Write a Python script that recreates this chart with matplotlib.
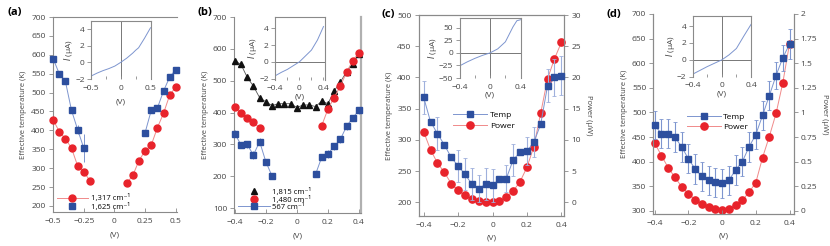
import matplotlib
matplotlib.use("Agg")
import matplotlib.pyplot as plt
from matplotlib.lines import Line2D
import numpy as np

plt.rcParams['font.family'] = ['Open Sans', 'DejaVu Sans']
plt.rcParams['font.size'] = 6
plt.rcParams['axes.edgecolor'] = '#8a8a8a'
plt.rcParams['axes.linewidth'] = 0.8
plt.rcParams['xtick.color'] = '#8a8a8a'
plt.rcParams['ytick.color'] = '#8a8a8a'
plt.rcParams['xtick.labelcolor'] = '#444444'
plt.rcParams['ytick.labelcolor'] = '#444444'
plt.rcParams['axes.labelcolor'] = '#444444'

RED = '#e8232b'
RED_L = '#f08a8a'
BLUE = '#2d4f9e'
BLUE_L = '#7d95cf'
BLACK = '#111111'

# ---------------- data ----------------
# (a)
a_v_red = [-0.5, -0.45, -0.4, -0.35, -0.3, -0.25, -0.2, 0.1, 0.15, 0.2, 0.25, 0.3, 0.35, 0.4, 0.45, 0.5]
a_t_red = [428, 397, 378, 353, 306, 290, 267, 260, 281, 320, 346, 361, 407, 445, 493, 515]
a_e_red = [6, 6, 6, 6, 6, 8, 8, 8, 8, 8, 6, 6, 6, 6, 6, 6]
a_v_blue = [-0.5, -0.45, -0.4, -0.35, -0.3, -0.25, 0.25, 0.3, 0.35, 0.4, 0.45, 0.5]
a_t_blue = [590, 550, 530, 453, 402, 353, 394, 453, 459, 504, 541, 561]
a_e_blue = [6, 6, 6, 8, 12, 38, 6, 8, 6, 8, 8, 6]
a_iv_v = [-0.5, -0.4, -0.3, -0.2, -0.1, 0.0, 0.1, 0.2, 0.25, 0.3, 0.4, 0.5]
a_iv_i = [-1.65, -1.3, -1.0, -0.75, -0.45, 0.0, 0.5, 1.1, 1.45, 1.75, 2.9, 4.15]

# (b)
b_v = [-0.4, -0.36, -0.32, -0.28, -0.24, -0.2, -0.16, -0.12, -0.08, -0.04, 0.0,
       0.04, 0.08, 0.12, 0.16, 0.2, 0.24, 0.28, 0.32, 0.36, 0.4]
b_t_black = [563, 551, 511, 483, 447, 434, 422, 428, 428, 428, 416,
             424, 424, 419, 436, 428, 468, 496, 528, 554, 583]
b_v_red = [-0.4, -0.36, -0.32, -0.28, -0.24, 0.16, 0.2, 0.24, 0.28, 0.32, 0.36, 0.4]
b_t_red = [417, 400, 382, 371, 351, 359, 411, 447, 483, 527, 563, 588]
b_v_blue = [-0.4, -0.36, -0.32, -0.28, -0.24, -0.2, -0.16, 0.12, 0.16, 0.2, 0.24, 0.28, 0.32, 0.36, 0.4]
b_t_blue = [334, 299, 300, 267, 309, 246, 201, 206, 260, 271, 294, 316, 357, 384, 407]
b_e_blue = [12, 10, 12, 14, 12, 10, 10, 8, 10, 12, 10, 10, 10, 10, 10]
b_iv_v = [-0.4, -0.3, -0.2, -0.1, 0.0, 0.1, 0.2, 0.3, 0.4]
b_iv_i = [-1.65, -1.25, -0.9, -0.45, 0.0, 0.7, 1.4, 2.6, 4.2]

# (c)
cd_v = [-0.4, -0.36, -0.32, -0.28, -0.24, -0.2, -0.16, -0.12, -0.08, -0.04, 0.0,
        0.04, 0.08, 0.12, 0.16, 0.2, 0.24, 0.28, 0.32, 0.36, 0.4]
c_temp = [368, 329, 310, 292, 272, 258, 245, 229, 222, 229, 227,
          237, 238, 268, 280, 282, 296, 325, 387, 400, 403]
c_temp_err = [26, 3, 26, 3, 3, 26, 26, 26, 22, 26, 26,
              3, 22, 26, 3, 22, 24, 3, 26, 30, 31]
c_power = [11.3, 8.4, 6.3, 4.8, 3.0, 1.9, 1.1, 0.5, 0.2, 0.05, 0.05,
           0.2, 0.85, 1.8, 3.3, 5.6, 8.9, 14.3, 19.8, 23.0, 25.6]
c_iv_v = [-0.4, -0.3, -0.2, -0.1, 0.0, 0.1, 0.2, 0.25, 0.3, 0.35, 0.4]
c_iv_i = [-26, -18, -11, -5, 0, 8, 22, 37, 52, 64, 66]

# (d)
d_temp = [474, 457, 457, 450, 430, 406, 385, 370, 362, 358, 356,
          362, 383, 400, 430, 455, 494, 534, 575, 611, 639]
d_temp_err = [28, 30, 30, 30, 30, 30, 30, 30, 30, 30, 30,
              30, 30, 30, 30, 30, 30, 30, 28, 27, 30]
d_power = [0.69, 0.563, 0.44, 0.342, 0.247, 0.176, 0.115, 0.075, 0.04, 0.017, 0.014,
           0.024, 0.064, 0.108, 0.19, 0.288, 0.542, 0.756, 0.99, 1.30, 1.70]
d_iv_v = [-0.4, -0.3, -0.2, -0.1, 0.0, 0.1, 0.2, 0.3, 0.4]
d_iv_i = [-1.7, -1.25, -0.8, -0.4, 0.0, 0.6, 1.35, 2.8, 4.2]

W, H = 830, 246
fig = plt.figure(figsize=(W / 100, H / 100), dpi=100)


def fax(x0, y0, x1, y1):
    return fig.add_axes([x0 / W, 1 - y1 / H, (x1 - x0) / W, (y1 - y0) / H])


def style_main(ax):
    ax.tick_params(axis='x', direction='in', length=3, width=0.6, pad=4, labelsize=6)
    ax.tick_params(axis='y', direction='out', length=3, width=0.6, pad=2, labelsize=6)


def style_inset(ax, xlim, ylim, xticks, xlabels, yticks, minor, xlpad):
    ax.set_xlim(*xlim)
    ax.set_ylim(*ylim)
    ax.set_xticks(xticks)
    ax.set_xticklabels(xlabels)
    ax.set_xticks(minor, minor=True)
    ax.set_yticks(yticks)
    ax.tick_params(axis='x', which='both', direction='in', length=2.5, width=0.6, pad=4, labelsize=6)
    ax.tick_params(axis='y', direction='out', length=3, width=0.6, pad=1.5, labelsize=6)
    ax.spines['bottom'].set_visible(False)
    ax.axvline(0, color='#777777', lw=0.7, zorder=1)
    ax.axhline(0, color='#777777', lw=0.7, zorder=1)
    ax.patch.set_facecolor('white')
    ax.set_xlabel('(V)', fontsize=6, labelpad=xlpad)
    ax.set_ylabel(r'$I$ (µA)', fontsize=6, labelpad=0)


# ---------------- (a) ----------------
ax = fax(52.5, 17, 177, 212)
for sl in (slice(0, 7), slice(7, None)):
    ax.errorbar(a_v_red[sl], a_t_red[sl], yerr=a_e_red[sl], color=RED_L, ecolor=RED_L, lw=0.7,
                elinewidth=0.7, marker='o', ms=5, mfc=RED, mec=RED, zorder=3, clip_on=False)
for sl in (slice(0, 6), slice(6, None)):
    ax.errorbar(a_v_blue[sl], a_t_blue[sl], yerr=a_e_blue[sl], color=BLUE_L, ecolor=BLUE_L, lw=0.7,
                elinewidth=0.7, marker='s', ms=4.2, mfc=BLUE, mec=BLUE, zorder=4, clip_on=False)
ax.set_xlim(-0.505, 0.51)
ax.set_ylim(184, 700)
ax.set_xticks([-0.5, -0.25, 0, 0.25, 0.5])
ax.set_xticklabels(['−0.5', '−0.25', '0', '0.25', '0.5'])
ax.set_yticks(range(200, 701, 50))
ax.spines['right'].set_visible(False)
style_main(ax)
ax.set_xlabel('(V)', fontsize=6, labelpad=5)
ax.set_ylabel('Effective temperature (K)', fontsize=5.5, labelpad=3)
h1 = Line2D([], [], color=RED_L, lw=0.7, marker='o', ms=5, mfc=RED, mec=RED)
h2 = Line2D([], [], color='none', marker='s', ms=4.2, mfc=BLUE, mec=BLUE)
ax.legend([h1, h2], ['1,317 cm⁻¹', '1,625 cm⁻¹'], loc='lower left',
          bbox_to_anchor=(0.036, 0.005), frameon=False, fontsize=5.5, handlelength=4.0,
          labelspacing=0.1, borderpad=0.0, handletextpad=0.4, borderaxespad=0)
fig.text(7 / W, 1 - 12 / H, '(a)', fontsize=8, fontweight='bold', va='center', ha='left')

ia = fax(91, 20.7, 150.5, 79)
ia.plot(a_iv_v, a_iv_i, color=BLUE_L, lw=0.7)
style_inset(ia, (-0.5, 0.5), (-2, 5), [-0.5, 0, 0.5], ['−0.5', '0', '0.5'], [-2, 0, 2, 4],
            [-0.25, 0.25], 5)
ia.lines[-1].set_visible(False)  # only vertical line in (a)

# ---------------- (b) ----------------
bx = fax(234, 17, 361, 213)
bx.plot(b_v, b_t_black, color='#555555', lw=0.6, marker='^', ms=5, mfc=BLACK, mec=BLACK,
        zorder=3, clip_on=False)
bx.plot(b_v_red[:5], b_t_red[:5], color=RED_L, lw=0.7, marker='o', ms=5, mfc=RED, mec=RED,
        zorder=4, clip_on=False)
bx.plot(b_v_red[5:], b_t_red[5:], color=RED_L, lw=0.7, marker='o', ms=5, mfc=RED, mec=RED,
        zorder=4, clip_on=False)
bx.errorbar(b_v_blue[:7], b_t_blue[:7], yerr=b_e_blue[:7], color=BLUE_L, ecolor=BLUE_L, lw=0.7,
            elinewidth=0.7, marker='s', ms=4.2, mfc=BLUE, mec=BLUE, zorder=3, clip_on=False)
bx.errorbar(b_v_blue[7:], b_t_blue[7:], yerr=b_e_blue[7:], color=BLUE_L, ecolor=BLUE_L, lw=0.7,
            elinewidth=0.7, marker='s', ms=4.2, mfc=BLUE, mec=BLUE, zorder=3, clip_on=False)
bx.set_xlim(-0.405, 0.413)
bx.set_ylim(85, 700)
bx.set_xticks([-0.4, -0.2, 0, 0.2, 0.4])
bx.set_xticklabels(['−0.4', '−0.2', '0', '0.2', '0.4'])
bx.set_yticks(range(100, 701, 100))
bx.spines['top'].set_visible(False)
bx.spines['right'].set_color('#b0b0b0')
bx.spines['right'].set_linewidth(1.6)
style_main(bx)
bx.set_xlabel('(V)', fontsize=6, labelpad=5)
bx.set_ylabel('Effective temperature (K)', fontsize=5.5, labelpad=3)
hb1 = Line2D([], [], color='none', marker='^', ms=5, mfc=BLACK, mec=BLACK)
hb2 = Line2D([], [], color='none', marker='o', ms=5, mfc=RED, mec=RED)
hb3 = Line2D([], [], color=BLUE_L, lw=0.7, marker='s', ms=4.2, mfc=BLUE, mec=BLUE)
bx.legend([hb1, hb2, hb3], ['1,815 cm⁻¹', '1,480 cm⁻¹', '567 cm⁻¹'],
          loc='lower left', bbox_to_anchor=(0.031, 0.01), frameon=False, fontsize=5.5,
          handlelength=4.2, labelspacing=0.0, borderpad=0.0, handletextpad=0.3,
          borderaxespad=0)
fig.text(197 / W, 1 - 12 / H, '(b)', fontsize=8, fontweight='bold', va='center', ha='left')

ib = fax(275, 17.3, 325, 79.5)
ib.plot(b_iv_v, b_iv_i, color=BLUE_L, lw=0.7)
style_inset(ib, (-0.405, 0.425), (-2.1, 5.3), [-0.4, 0, 0.4], ['−0.4', '0', '0.4'], [-2, 0, 2, 4],
            [-0.2, 0.2], 1)
ib.lines[-2].set_visible(False)  # only horizontal line in (b)

# ---------------- (c) ----------------
cx = fax(418.5, 15, 564.3, 216)
cx2 = cx.twinx()
cx.set_zorder(cx2.get_zorder() + 1)
cx.patch.set_visible(False)
cx2.plot(cd_v, c_power, color=RED_L, lw=0.7, marker='o', ms=5.2, mfc=RED, mec=RED, zorder=3, clip_on=False)
cx.errorbar(cd_v, c_temp, yerr=c_temp_err, color=BLUE_L, ecolor='#9fb0dc', lw=0.7, elinewidth=0.8,
            capsize=1.5, capthick=0.6, marker='s', ms=4.2, mfc=BLUE, mec=BLUE, zorder=4, clip_on=False)
cx.set_xlim(-0.43, 0.417)
cx.set_ylim(178, 500)
cx2.set_ylim(-2.2, 30)
cx.set_xticks([-0.4, -0.2, 0, 0.2, 0.4])
cx.set_xticklabels(['−0.4', '−0.2', '0', '0.2', '0.4'])
cx.set_yticks(range(200, 501, 50))
cx2.set_yticks(range(0, 31, 5))
style_main(cx)
cx2.tick_params(axis='y', direction='out', length=3, width=0.6, pad=2, labelsize=6)
cx.set_xlabel('(V)', fontsize=6, labelpad=4)
cx.set_ylabel('Effective temperature (K)', fontsize=5.5, labelpad=3)
cx2.set_ylabel('Power (µW)', fontsize=5.5, rotation=270, labelpad=8)
hc1 = Line2D([], [], color=BLUE_L, lw=0.7, marker='s', ms=4.2, mfc=BLUE, mec=BLUE)
hc2 = Line2D([], [], color=RED_L, lw=0.7, marker='o', ms=5.2, mfc=RED, mec=RED)
cx.legend([hc1, hc2], ['Temp', 'Power'], loc='upper left', bbox_to_anchor=(0.237, 0.52),
          frameon=False, fontsize=6, handlelength=4.1, labelspacing=0.35, borderpad=0.0,
          handletextpad=0.3, borderaxespad=0)
fig.text(381 / W, 1 - 14 / H, '(c)', fontsize=8, fontweight='bold', va='center', ha='left')

ic = fax(459.5, 17.7, 520.7, 78)
ic.plot(c_iv_v, c_iv_i, color=BLUE_L, lw=0.7)
style_inset(ic, (-0.4, 0.4), (-50, 70), [-0.4, 0, 0.4], ['−0.4', '0', '0.4'], [-50, -25, 0, 25, 50],
            [-0.2, 0.2], 1)
ic.set_yticklabels(['−50', '−25', '0', '25', '50'])

# ---------------- (d) ----------------
dx = fax(653.3, 14, 793.5, 214.3)
dx2 = dx.twinx()
dx.set_zorder(dx2.get_zorder() + 1)
dx.patch.set_visible(False)
dx2.plot(cd_v, d_power, color=RED_L, lw=0.7, marker='o', ms=5.2, mfc=RED, mec=RED, zorder=3, clip_on=False)
dx.errorbar(cd_v, d_temp, yerr=d_temp_err, color=BLUE_L, ecolor='#7d95cf', lw=0.7, elinewidth=0.8,
            capsize=1.5, capthick=0.6, marker='s', ms=4.2, mfc=BLUE, mec=BLUE, zorder=4, clip_on=False)
dx.set_xlim(-0.408, 0.4235)
dx.set_ylim(293, 700)
dx2.set_ylim(-0.034, 2)
dx.set_xticks([-0.4, -0.2, 0, 0.2, 0.4])
dx.set_xticklabels(['−0.4', '−0.2', '0', '0.2', '0.4'])
dx.set_yticks(range(300, 701, 50))
dx2.set_yticks([0, 0.25, 0.5, 0.75, 1, 1.25, 1.5, 1.75, 2])
dx2.set_yticklabels(['0', '0.25', '0.5', '0.75', '1', '1.25', '1.5', '1.75', '2'])
dx.spines['top'].set_visible(False)
dx2.spines['top'].set_visible(False)
style_main(dx)
dx2.tick_params(axis='y', direction='out', length=3, width=0.6, pad=2, labelsize=6)
dx.set_xlabel('(V)', fontsize=6, labelpad=4)
dx.set_ylabel('Effective temperature (K)', fontsize=5.5, labelpad=3)
dx2.set_ylabel('Power (µW)', fontsize=5.5, rotation=270, labelpad=8)
dx.legend([hc1, hc2], ['Temp', 'Power'], loc='upper left', bbox_to_anchor=(0.238, 0.505),
          frameon=False, fontsize=6, handlelength=4.1, labelspacing=0.3, borderpad=0.0,
          handletextpad=0.3, borderaxespad=0)
fig.text(606 / W, 1 - 14 / H, '(d)', fontsize=8, fontweight='bold', va='center', ha='left')

idd = fax(692.7, 16, 751, 76.7)
idd.plot(d_iv_v, d_iv_i, color=BLUE_L, lw=0.7)
style_inset(idd, (-0.4, 0.4), (-2, 5.2), [-0.4, 0, 0.4], ['−0.4', '0', '0.4'], [-2, 0, 2, 4],
            [-0.2, 0.2], 1)

fig.savefig('out.png', dpi=100)
